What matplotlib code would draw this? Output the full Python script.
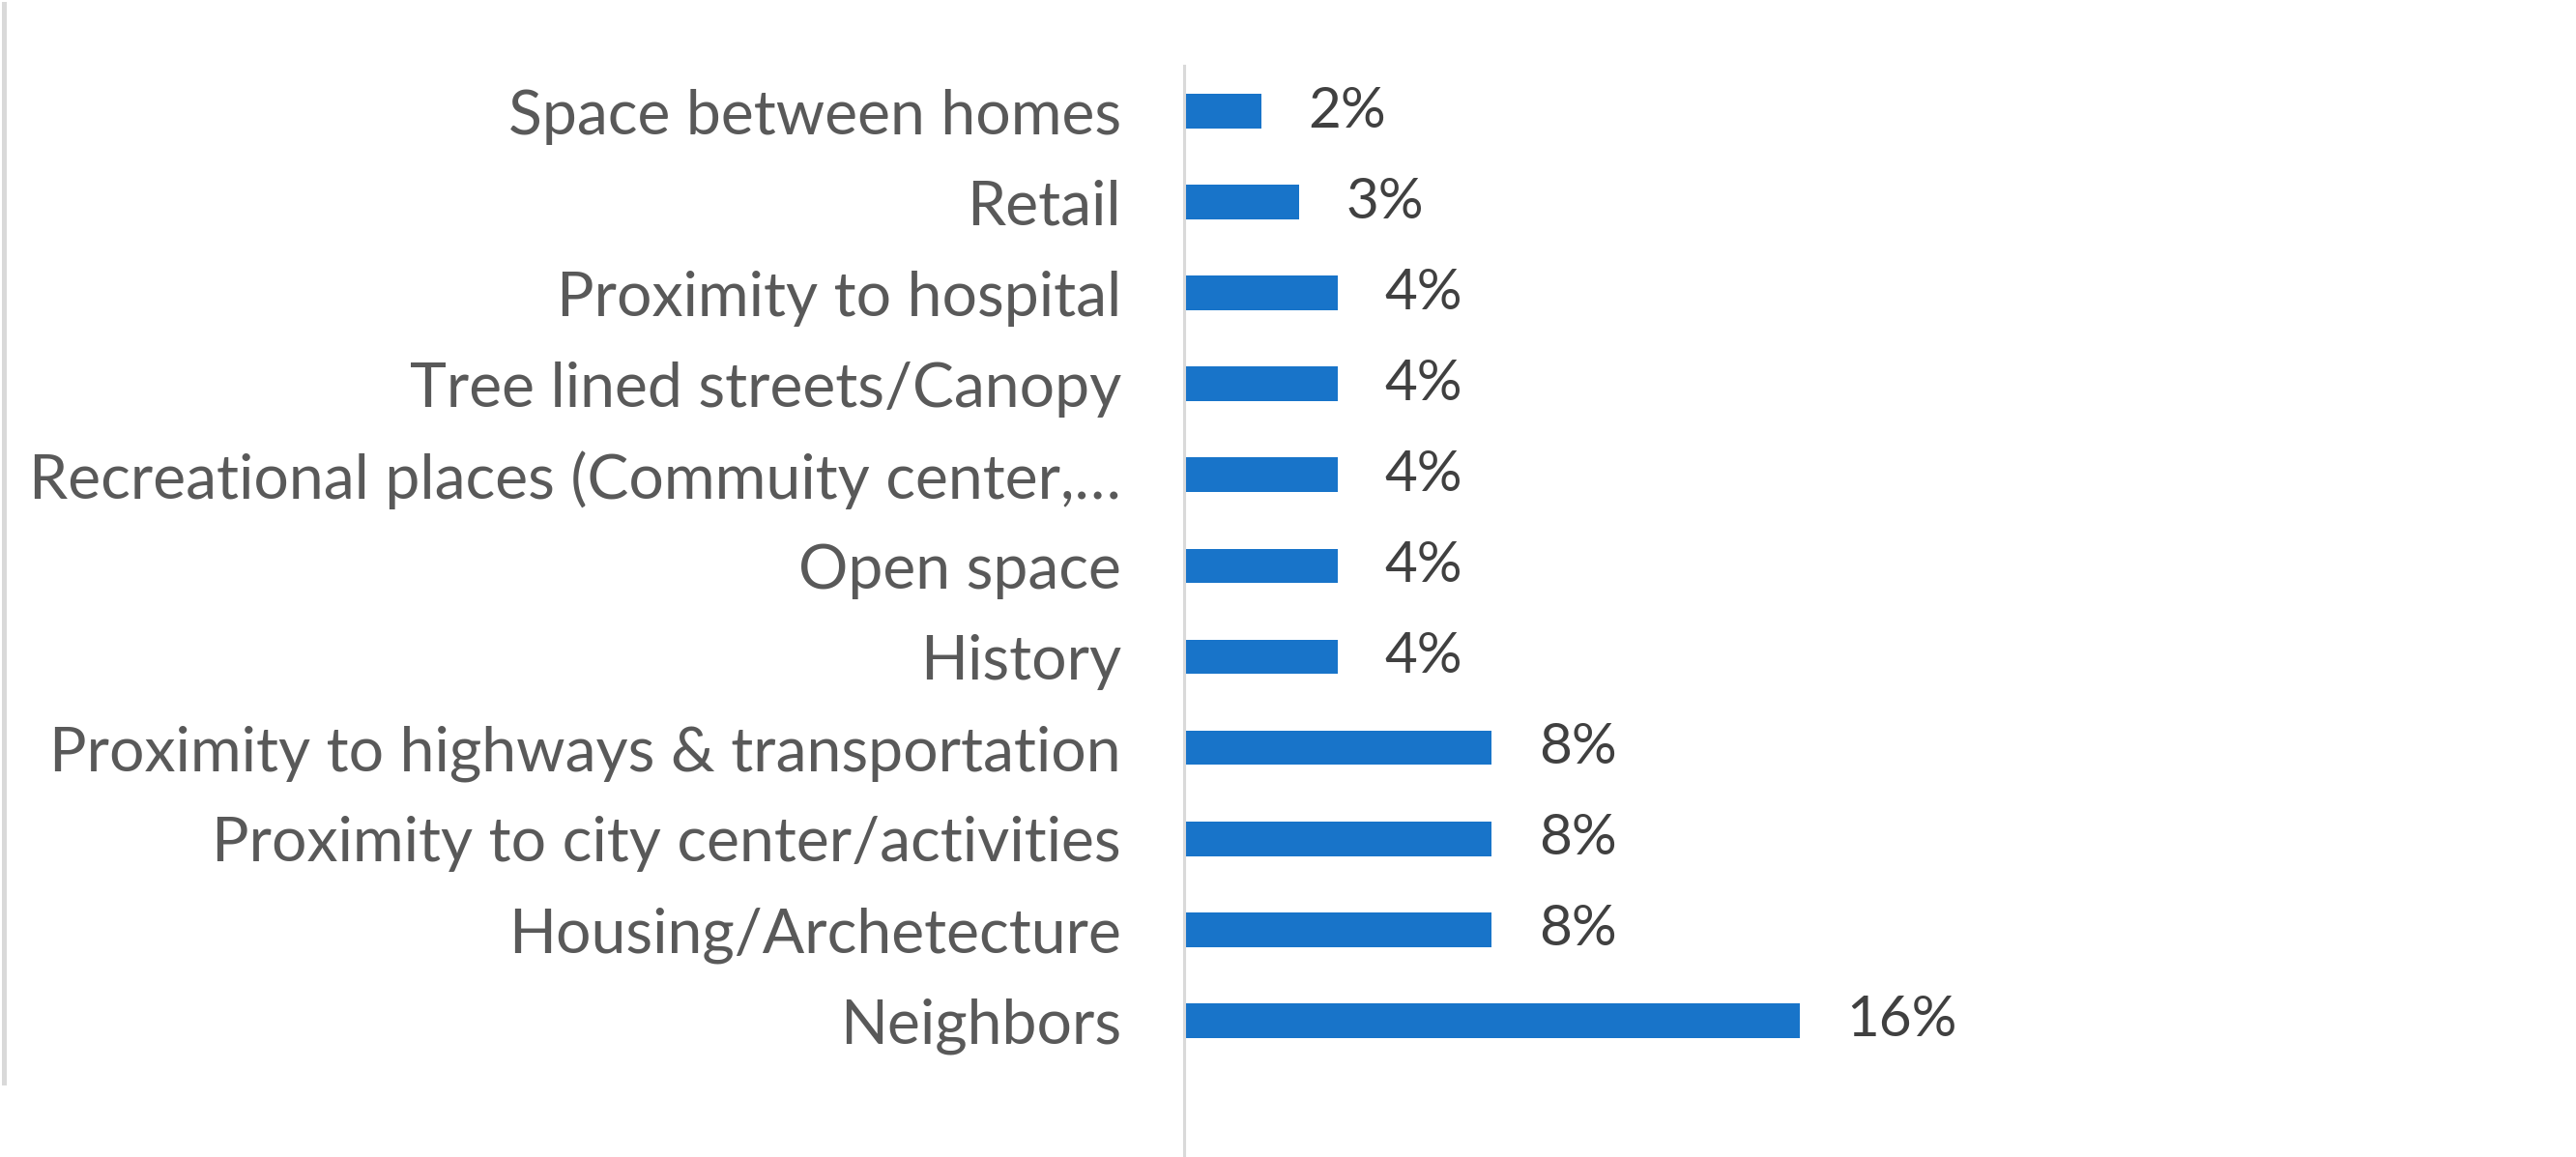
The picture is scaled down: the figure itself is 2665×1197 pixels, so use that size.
import matplotlib.pyplot as plt
from matplotlib.lines import Line2D

# survey answers, bottom to top as drawn
categories = ['Neighbors', 'Housing/Archetecture', 'Proximity to city center/activities',
              'Proximity to highways & transportation', 'History', 'Open space',
              'Recreational places (Commuity center,…', 'Tree lined streets/Canopy',
              'Proximity to hospital', 'Retail', 'Space between homes']
values = [16, 8, 8, 8, 4, 4, 4, 4, 4, 3, 2]
value_labels = ['16%', '8%', '8%', '8%', '4%', '4%', '4%', '4%', '4%', '3%', '2%']

plt.rcParams['font.family'] = ['Lato', 'DejaVu Sans']

fig = plt.figure(figsize=(26.65, 11.97), dpi=100)
ax = fig.add_axes([0.4597, 0.0, 0.5403, 0.9432])

ypos = list(range(len(categories)))
bars = ax.barh(ypos, values, height=0.38, color='#1874C9')

for y, v, lab in zip(ypos, values, value_labels):
    ax.annotate(lab, (v, y), xytext=(35, 0), textcoords='offset points',
                va='center', ha='left', fontsize=42, color='#404040')

ax.set_yticks(ypos)
ax.set_yticklabels(categories, fontsize=46.3, color='#595959')
ax.tick_params(axis='y', length=0, pad=47)
ax.set_xticks([])
ax.set_xlim(0, 36.2)
ax.set_ylim(-1.5, 10.5)

for s in ['top', 'right', 'bottom']:
    ax.spines[s].set_visible(False)
ax.spines['left'].set_color('#D9D9D9')
ax.spines['left'].set_linewidth(2.2)

# thin border line at the far left
fig.add_artist(Line2D([3.5 / 2665, 3.5 / 2665], [1 - 4 / 1197, 1 - 1120 / 1197],
                      transform=fig.transFigure, color='#D9D9D9', linewidth=3.6))

plt.savefig('out.png', dpi=100)
